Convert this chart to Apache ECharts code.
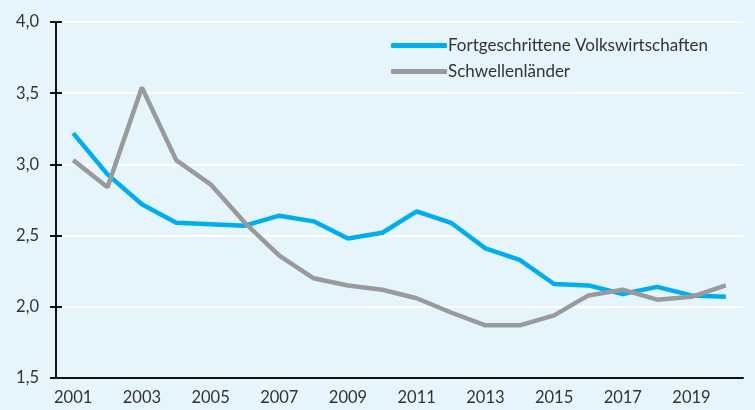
<!DOCTYPE html>
<html>
<head>
<meta charset="utf-8">
<script src="https://cdn.jsdelivr.net/npm/echarts@6/dist/echarts.min.js"></script>
<style>
  html, body { margin: 0; padding: 0; background: #e6f4fc; }
  #chart { width: 755px; height: 410px; }
</style>
</head>
<body>
<div id="chart"></div>
<script>
  // Years on the x axis
  var years = ['2001', '2002', '2003', '2004', '2005', '2006', '2007', '2008', '2009', '2010',
               '2011', '2012', '2013', '2014', '2015', '2016', '2017', '2018', '2019', '2020'];

  // Series values
  var advanced = [3.22, 2.93, 2.72, 2.59, 2.58, 2.57, 2.64, 2.60, 2.48, 2.52,
                  2.67, 2.59, 2.41, 2.33, 2.16, 2.15, 2.09, 2.14, 2.08, 2.07];
  var emerging = [3.03, 2.84, 3.54, 3.03, 2.86, 2.59, 2.36, 2.20, 2.15, 2.12,
                  2.06, 1.96, 1.87, 1.87, 1.94, 2.08, 2.12, 2.05, 2.07, 2.15];

  var names = ['Fortgeschrittene Volkswirtschaften', 'Schwellenländer'];

  var chart = echarts.init(document.getElementById('chart'));
  var font = 'Lato';

  chart.setOption({
    backgroundColor: '#e6f4fc',
    animation: false,
    textStyle: { fontFamily: font },
    legend: {
      orient: 'vertical',
      left: 386,
      top: 32,
      itemWidth: 56,
      itemHeight: 5,
      itemGap: 9,
      icon: 'roundRect',
      data: names,
      textStyle: { fontFamily: font, fontSize: 17, color: '#333', padding: [0, 0, 0, -4] }
    },
    grid: { left: 56, right: 12, top: 22, bottom: 32 },
    xAxis: [{
      type: 'category',
      data: years,
      boundaryGap: true,
      axisLine: { lineStyle: { color: '#111', width: 2 } },
      axisTick: { length: 5, lineStyle: { color: '#111', width: 2 } },
      axisLabel: {
        interval: 1,
        margin: 11,
        color: '#333',
        fontSize: 16.5,
        fontFamily: font
      },
      splitLine: { show: false }
    }, {
      type: 'category',
      data: years,
      position: 'bottom',
      boundaryGap: true,
      axisLine: { show: false },
      axisTick: { inside: true, length: 6, lineStyle: { color: '#111', width: 2 } },
      axisLabel: { show: false }
    }],
    yAxis: [{
      type: 'value',
      min: 1.5,
      max: 4.0,
      interval: 0.5,
      axisLine: { show: true, lineStyle: { color: '#111', width: 2 } },
      axisTick: { show: true, length: 6, lineStyle: { color: '#111', width: 2 } },
      axisLabel: {
        margin: 17,
        color: '#333',
        fontSize: 16.5,
        fontFamily: font,
        formatter: function (v) { return v.toFixed(1).replace('.', ','); }
      },
      splitLine: { lineStyle: { color: '#ffffff', width: 2 } }
    }, {
      type: 'value',
      position: 'left',
      min: 1.5,
      max: 4.0,
      interval: 0.5,
      axisLine: { show: false },
      axisTick: { show: true, inside: true, length: 6, lineStyle: { color: '#111', width: 2 } },
      axisLabel: { show: false },
      splitLine: { show: false }
    }],
    series: [{
      name: names[0],
      type: 'line',
      data: advanced,
      symbol: 'none',
      z: 3,
      lineStyle: { color: '#00aeef', width: 4.5 },
      itemStyle: { color: '#00aeef' }
    }, {
      name: names[1],
      type: 'line',
      data: emerging,
      symbol: 'none',
      z: 4,
      lineStyle: { color: '#9a9a9e', width: 4.5 },
      itemStyle: { color: '#9a9a9e' }
    }]
  });

  window.addEventListener('resize', function () {
    chart.resize();
  });
</script>
</body>
</html>
